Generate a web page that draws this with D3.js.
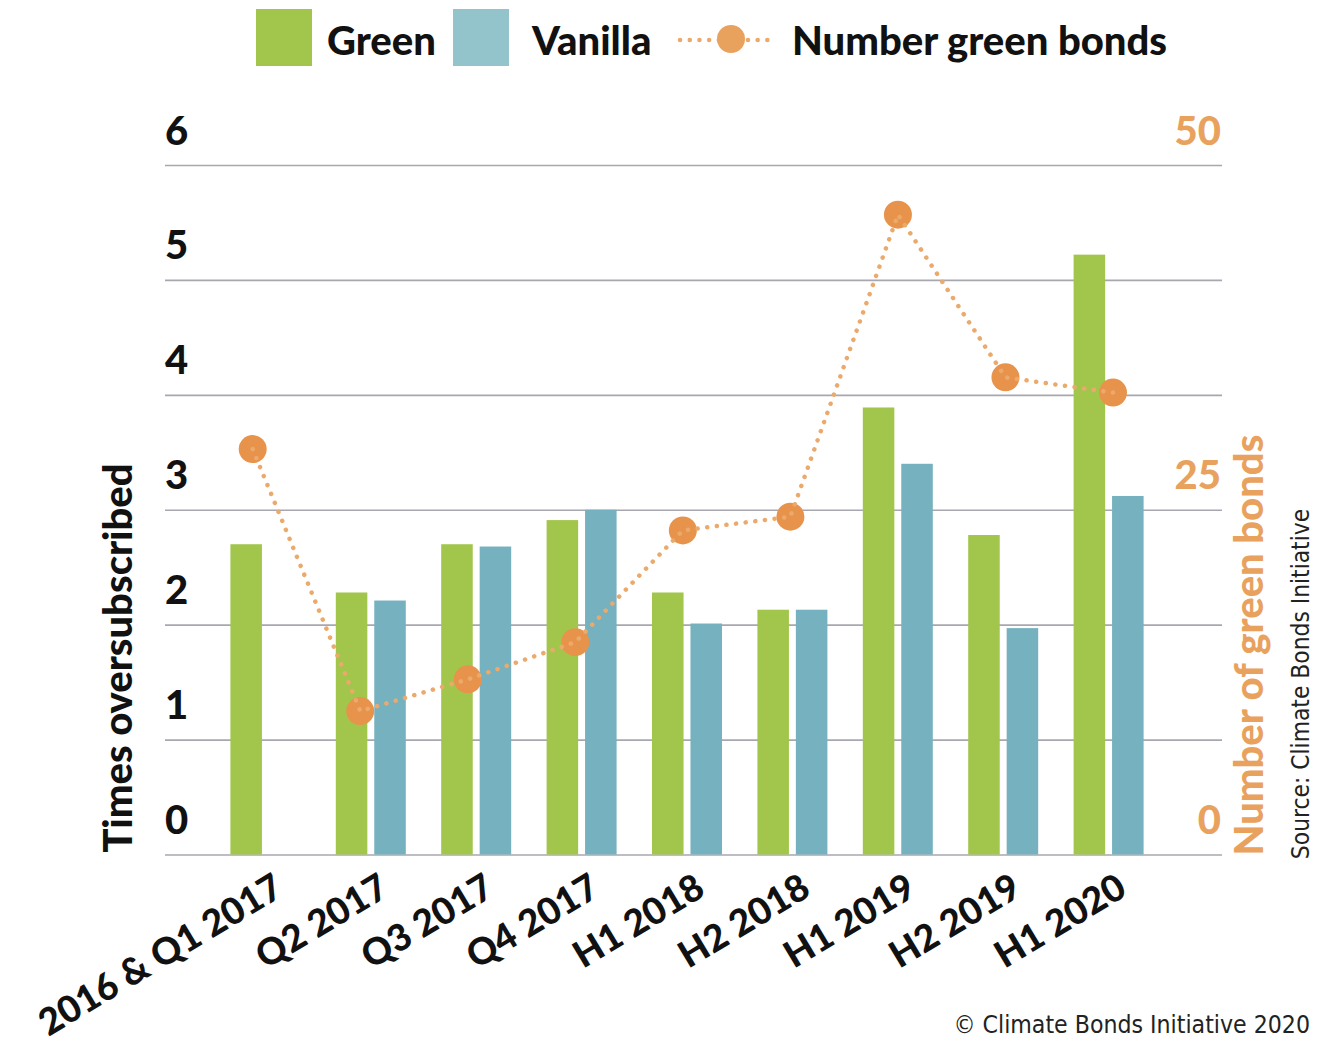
<!DOCTYPE html>
<html><head><meta charset="utf-8">
<script src="https://cdn.jsdelivr.net/npm/d3@7"></script>
<style>
body{margin:0;background:#fff}
svg{display:block}
.b{font-family:Lato,"Open Sans",sans-serif;font-weight:900}
.n{font-family:"Liberation Sans Narrow","DejaVu Sans Condensed",sans-serif;font-weight:400}
</style>
</head><body><svg id="c" width="1333" height="1044"></svg>
<script>
const categories = ["2016 & Q1 2017","Q2 2017","Q3 2017","Q4 2017","H1 2018","H2 2018","H1 2019","H2 2019","H1 2020"];
const greenValues = [2.70,2.28,2.70,2.91,2.28,2.13,3.89,2.78,5.22];
const vanillaValues = [null,2.21,2.68,3.00,2.01,2.13,3.40,1.97,3.12];
const numberGreenBonds = [29.4,10.4,12.7,15.4,23.5,24.5,46.4,34.6,33.5];
const leftTicks = [0,1,2,3,4,5,6];
const rightTicks = [0,25,50];
const seriesNames = ["Green","Vanilla"];

const C = {green:"#A2C64B", vanilla:"#75B1BE", vanillaLegend:"#93C3CB", orange:"#E8934B", orangeLine:"#EBAA6C", orangeText:"#E8A25E", grid:"#A7A7AF"};

const svg = d3.select("#c");
const y = d3.scaleLinear().domain([0,6]).range([854.5,165]);
const y2 = d3.scaleLinear().domain([0,50]).range([854.5,165]);
const x0 = d3.scaleBand().domain(categories).range([212.7,1161.3]).paddingInner(0.336).paddingOuter(0.168);
const x1 = d3.scaleBand().domain(seriesNames).range([0,x0.bandwidth()]).paddingInner(0.18);
const xp = d3.scalePoint().domain(categories).range([252.7,1113]);

// left axis with gridlines
const gL = svg.append("g").attr("transform","translate(165,0)")
  .call(d3.axisLeft(y).tickValues(leftTicks).tickSize(-(1222-165)).tickFormat(d3.format("d")));
gL.select(".domain").remove();
gL.selectAll(".tick line").attr("stroke",C.grid).attr("stroke-width",1.6);
gL.selectAll(".tick text").attr("class","b").attr("x",0).attr("y",-21).attr("dy",0)
  .attr("text-anchor","start").attr("fill","#111").style("font-size","40px");

// right axis
const gR = svg.append("g").attr("transform","translate(1221,0)")
  .call(d3.axisRight(y2).tickValues(rightTicks).tickSize(0).tickFormat(d3.format("d")));
gR.select(".domain").remove();
gR.selectAll(".tick text").attr("class","b").attr("x",0).attr("y",-21).attr("dy",0)
  .attr("text-anchor","end").attr("fill",C.orangeText).style("font-size","40px");

// bars
const rows = categories.map((c,i)=>({c, vals:[{k:"Green",v:greenValues[i]},{k:"Vanilla",v:vanillaValues[i]}]}));
const grp = svg.append("g").selectAll("g").data(rows).join("g")
  .attr("transform",d=>`translate(${x0(d.c)},0)`);
grp.selectAll("rect").data(d=>d.vals.filter(v=>v.v!=null)).join("rect")
  .attr("x",d=>x1(d.k)).attr("width",x1.bandwidth())
  .attr("y",d=>y(d.v)).attr("height",d=>y(0)-y(d.v))
  .attr("fill",d=>d.k==="Green"?C.green:C.vanilla);

// x axis labels
const gX = svg.append("g").attr("transform",`translate(0,${y(0)})`)
  .call(d3.axisBottom(x0).tickSize(0));
gX.select(".domain").remove();
gX.selectAll(".tick text").attr("class","b").attr("y",0).attr("dy",0)
  .attr("text-anchor","end").attr("fill","#111").style("font-size","37px")
  .attr("transform","translate(20,40) rotate(-31)");

// line + dots
const pts = categories.map((c,i)=>({c,v:numberGreenBonds[i]}));
svg.append("g").selectAll("circle").data(pts).join("circle")
  .attr("cx",d=>xp(d.c)).attr("cy",d=>y2(d.v)).attr("r",14).attr("fill",C.orange);
svg.append("path").datum(pts)
  .attr("d",d3.line().x(d=>xp(d.c)).y(d=>y2(d.v)))
  .attr("fill","none").attr("stroke",C.orangeLine).attr("stroke-width",4.5)
  .attr("stroke-linecap","round").attr("stroke-dasharray","0.1 9.6");

// legend
const lg = svg.append("g");
lg.append("rect").attr("x",256).attr("y",9).attr("width",56).attr("height",57).attr("fill",C.green);
lg.append("text").attr("class","b").attr("x",327).attr("y",55).style("font-size","40px").attr("fill","#111").text("Green");
lg.append("rect").attr("x",453).attr("y",9).attr("width",56).attr("height",57).attr("fill",C.vanillaLegend);
lg.append("text").attr("class","b").attr("x",532).attr("y",55).style("font-size","40px").attr("fill","#111").text("Vanilla");
lg.append("line").attr("x1",680).attr("x2",777).attr("y1",40).attr("y2",40)
  .attr("stroke",C.orangeLine).attr("stroke-width",4.5).attr("stroke-linecap","round").attr("stroke-dasharray","0.1 9.6");
lg.append("circle").attr("cx",731).attr("cy",39).attr("r",14).attr("fill","#E9A25E");
lg.append("text").attr("class","b").attr("x",792).attr("y",55).style("font-size","40px").attr("fill","#111").text("Number green bonds");

// axis titles
svg.append("text").attr("class","b").attr("transform","translate(132,658) rotate(-90)")
  .attr("text-anchor","middle").style("font-size","40px").attr("fill","#111").text("Times oversubscribed");
svg.append("text").attr("class","b").attr("transform","translate(1263,645) rotate(-90)")
  .attr("text-anchor","middle").style("font-size","40px").attr("fill",C.orangeText).text("Number of green bonds");
svg.append("text").attr("class","n").attr("transform","translate(1309,684) rotate(-90)")
  .attr("text-anchor","middle").style("font-size","24.3px").attr("fill","#222")
  .text("Source: Climate Bonds Initiative");
svg.append("text").attr("class","n").attr("x",1310).attr("y",1033)
  .attr("text-anchor","end").style("font-size","24.6px").attr("fill","#222")
  .text("© Climate Bonds Initiative 2020");
</script>
</body></html>
